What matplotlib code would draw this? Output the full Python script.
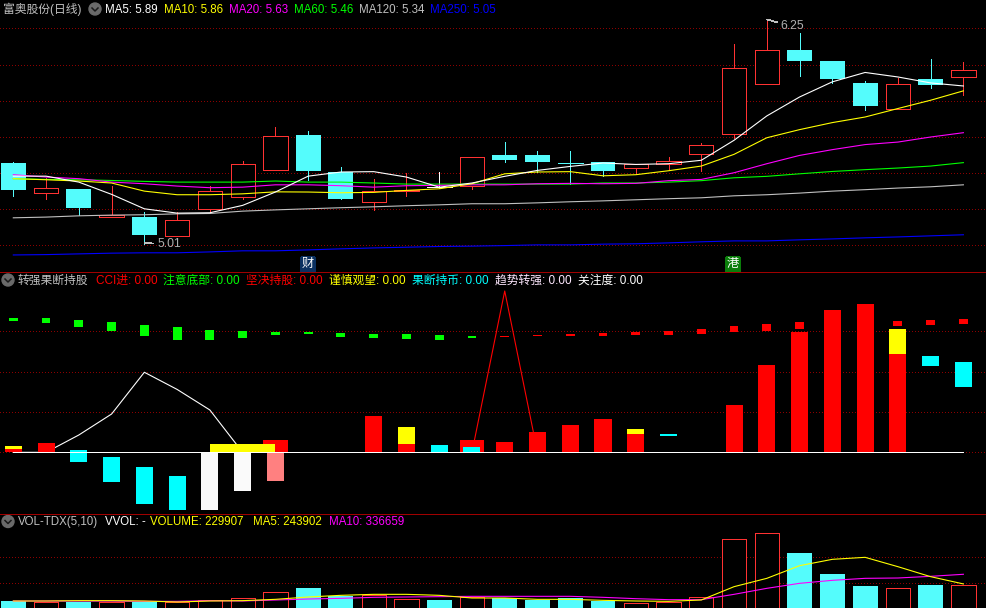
import matplotlib
matplotlib.use('Agg')
import matplotlib.pyplot as plt
from matplotlib.patches import Circle, Rectangle
import numpy as np

plt.rcParams['font.family'] = ['Liberation Sans', 'Noto Sans CJK SC', 'DejaVu Sans']
plt.rcParams['lines.antialiased'] = False
plt.rcParams['patch.antialiased'] = False

# ---- candles
open_p = [5.452, 5.287, 5.307, 5.154, 5.152, 5.048, 5.198, 5.267, 5.415, 5.607, 5.402, 5.237, 5.298, 5.319, 5.326,
          5.496, 5.496, 5.456, 5.457, 5.426, 5.450, 5.504, 5.615, 5.893, 6.080, 6.019, 5.896, 5.754, 5.919, 5.931]
close_p = [5.302, 5.317, 5.202, 5.163, 5.052, 5.139, 5.300, 5.450, 5.606, 5.407, 5.257, 5.300, 5.306, 5.319, 5.489,
           5.469, 5.457, 5.456, 5.407, 5.450, 5.467, 5.556, 5.983, 6.083, 6.019, 5.919, 5.769, 5.894, 5.885, 5.967]
high_p = [5.457, 5.372, 5.307, 5.324, 5.180, 5.185, 5.324, 5.463, 5.652, 5.630, 5.430, 5.363, 5.396, 5.402, 5.489,
          5.569, 5.519, 5.519, 5.457, 5.450, 5.485, 5.563, 6.113, 6.246, 6.174, 6.019, 5.907, 5.924, 6.030, 6.013]
low_p = [5.270, 5.252, 5.163, 5.154, 5.006, 5.048, 5.180, 5.254, 5.415, 5.357, 5.252, 5.191, 5.269, 5.313, 5.307,
         5.457, 5.402, 5.339, 5.383, 5.391, 5.419, 5.407, 5.591, 5.893, 5.935, 5.896, 5.746, 5.754, 5.869, 5.830]
doji_white = [13]

ma5 = [5.381, 5.381, 5.348, 5.280, 5.200, 5.176, 5.178, 5.219, 5.293, 5.381, 5.404, 5.406, 5.376, 5.320, 5.343,
       5.380, 5.413, 5.435, 5.454, 5.446, 5.450, 5.469, 5.580, 5.715, 5.820, 5.904, 5.956, 5.931, 5.898, 5.881]
ma10 = [5.367, 5.361, 5.354, 5.343, 5.298, 5.278, 5.278, 5.283, 5.294, 5.293, 5.289, 5.291, 5.302, 5.311, 5.339,
        5.394, 5.404, 5.406, 5.383, 5.389, 5.411, 5.437, 5.502, 5.594, 5.639, 5.678, 5.709, 5.756, 5.802, 5.854]
ma20 = [5.389, 5.376, 5.367, 5.348, 5.339, 5.326, 5.317, 5.320, 5.333, 5.333, 5.328, 5.320, 5.328, 5.330, 5.333,
        5.333, 5.339, 5.341, 5.339, 5.341, 5.356, 5.363, 5.400, 5.450, 5.496, 5.528, 5.556, 5.570, 5.598, 5.622]
ma60 = [5.367, 5.363, 5.361, 5.357, 5.352, 5.348, 5.348, 5.348, 5.354, 5.348, 5.348, 5.343, 5.337, 5.337, 5.337,
        5.337, 5.337, 5.337, 5.343, 5.343, 5.348, 5.356, 5.372, 5.380, 5.394, 5.407, 5.417, 5.426, 5.437, 5.456]
ma120 = [5.150, 5.154, 5.161, 5.165, 5.167, 5.172, 5.174, 5.187, 5.194, 5.200, 5.206, 5.211, 5.217, 5.222, 5.228,
         5.228, 5.233, 5.239, 5.244, 5.250, 5.256, 5.261, 5.272, 5.278, 5.287, 5.298, 5.306, 5.315, 5.322, 5.333]
ma250 = [4.944, 4.946, 4.950, 4.954, 4.956, 4.956, 4.961, 4.967, 4.967, 4.972, 4.978, 4.983, 4.987, 4.991, 4.993,
         4.996, 5.000, 5.000, 5.004, 5.006, 5.011, 5.017, 5.022, 5.022, 5.028, 5.033, 5.039, 5.044, 5.050, 5.056]
price_grid = [5.0, 5.2, 5.4, 5.6, 5.8, 6.0, 6.2]

# ---- middle indicator
marker_top = [66.6, 66.6, 65.6, 64.6, 63.1, 62.1, 60.7, 60.2, 59.7, 59.7, 59.2, 58.7, 58.7, 58.2, 57.7,
              57.7, 58.2, 58.7, 59.2, 59.7, 60.2, 61.2, 62.6, 63.6, 64.6, 64.6, 65.1, 65.1, 65.6, 66.1]
marker_bot = [65.1, 64.1, 62.1, 60.2, 57.7, 55.7, 55.7, 56.7, 58.2, 58.7, 57.2, 56.7, 56.2, 55.7, 56.7,
              57.2, 57.7, 57.7, 57.7, 58.2, 58.2, 58.7, 59.7, 60.2, 61.2, 61.2, 61.7, 62.6, 63.1, 63.6]
red_top = [1.7, 4.6, 0, 0, 0, 0, 0, 0, 0, 0, 0, 18.0, 4.1, 0, 0,
           5.1, 10.1, 13.6, 16.5, 9.1, 0, 0, 23.5, 43.3, 59.7, 70.6, 73.6, 48.8, 0, 0]
wide_red_idx = [8, 14]
wide_red_top = [6.1, 6.1]
yellow_idx = [0, 12, 19, 27]
yellow_bot = [1.7, 4.1, 9.1, 48.8]
yellow_top = [3.1, 12.6, 11.6, 61.2]
yellow_span = (6, 8, 0, 4.1)
cyan_idx = [2, 3, 4, 5, 13, 14, 20, 28, 29]
cyan_bot = [-4.8, -14.7, -25.6, -28.6, 0, 0, 8.1, 42.8, 32.4]
cyan_top = [1.2, -2.3, -7.3, -11.7, 3.6, 2.6, 9.1, 47.8, 44.8]
white_idx = [6, 7]
white_bot = [-28.6, -19.2]
pink_idx = [8]
pink_bot = [-14.2]
white_curve = [0, 0, 8.6, 19.0, 39.7, 31.2, 21.0, 0]
red_peak_idx = [14, 15, 16]
red_peak = [0, 80.0, 0]
ind_grid = [0, 20, 40, 60]

# ---- volume
volume = [76600, 70200, 70200, 70200, 67000, 67000, 86200, 105400, 163100, 204800, 131100, 137500, 95800, 86200, 118300,
          105400, 89400, 108600, 79800, 57400, 73400, 115100, 672700, 730100, 541300, 339400, 224000, 201600, 233600, 229907]
vol_ma5 = [79800, 79800, 83000, 83000, 79800, 70200, 79800, 83000, 95800, 118300, 134300, 143900, 143900, 134300, 108600,
           108600, 95800, 95800, 86200, 79800, 76600, 89400, 217600, 297700, 419500, 480400, 499700, 409900, 313800, 243902]
vol_ma10 = [79800, 79800, 79800, 79800, 76600, 76600, 83000, 79800, 89400, 99000, 105400, 115100, 118300, 121500, 124700,
            124700, 124700, 124700, 115100, 102200, 92600, 92600, 143900, 201600, 249700, 278500, 297700, 300900, 317000, 336659]
vol_grid = [250000, 500000]

RED = '#ff3232'
CYAN = '#54fcfc'
GRID = '#8c0000'
LW = 0.5
CURVE = 0.8
idx = np.arange(30)
up = np.array(close_p) > np.array(open_p)
up[[3, 5]] = True

fig = plt.figure(figsize=(9.86, 6.08), dpi=100, facecolor='black')


def panel(top_px, bot_px, ylim):
    ax = fig.add_axes([0, 1 - bot_px / 608, 1, (bot_px - top_px) / 608])
    ax.set_facecolor('black')
    ax.set_xlim(-0.406, 29.69)
    ax.set_ylim(*ylim)
    ax.axis('off')
    return ax


# price panel
ax1 = panel(0, 271.5, (4.8523, 6.3578))
for g in price_grid:
    ax1.axhline(g, color=GRID, lw=LW, ls=(0, (1.4, 3.2)), zorder=1)
for i in idx:
    col = 'white' if i in doji_white else (RED if up[i] else CYAN)
    ax1.vlines(i, low_p[i], high_p[i], color=col, lw=LW, zorder=2)
    bot = min(open_p[i], close_p[i])
    h = abs(close_p[i] - open_p[i])
    if h < 0.001:
        ax1.hlines(open_p[i], i - 0.38, i + 0.38, color=col, lw=LW, zorder=3)
    elif up[i]:
        ax1.bar(i, h, 0.74, bottom=bot, facecolor='black', edgecolor=RED, lw=LW, zorder=3)
    else:
        ax1.bar(i, h, 0.76, bottom=bot, color=CYAN, lw=0, zorder=3)
ma_lines = [(ma250, '#0000ff'), (ma120, '#c0c0c0'), (ma60, '#00ff00'), (ma20, '#ff00ff'), (ma10, '#ffff00'), (ma5, '#ffffff')]
for vals, c in ma_lines:
    ax1.plot(idx, vals, color=c, lw=CURVE, antialiased=True, zorder=4)
arrow = dict(arrowstyle='-', color='#c0c0c0', lw=LW, shrinkA=1, shrinkB=0)
ax1.annotate('5.01', xy=(4, 5.01), xytext=(13, -1), textcoords='offset pixels', color='#b0b0b0', fontsize=8.8,
             va='center', ha='left', arrowprops=arrow)
ax1.annotate('6.25', xy=(23, 6.25), xytext=(14, -7), textcoords='offset pixels', color='#b0b0b0', fontsize=8.8,
             va='center', ha='left', arrowprops=arrow)

# middle panel
ax2 = panel(271.5, 513, (-30.08, 89.67))
for g in ind_grid:
    ax2.axhline(g, color=GRID, lw=LW, ls=(0, (1.4, 3.2)), zorder=1)
ax2.plot(red_peak_idx, red_peak, color='#ff0000', lw=CURVE, antialiased=True, zorder=2)
ax2.plot(np.arange(len(white_curve)), white_curve, color='white', lw=CURVE, antialiased=True, zorder=2)
marker_col = ['#00ff00'] * 15 + ['#ff0000'] * 15
ax2.bar(idx, np.array(marker_top) - np.array(marker_bot), 0.27, bottom=marker_bot, color=marker_col, lw=0, zorder=3)
ax2.bar(wide_red_idx, wide_red_top, 0.76, color='#ff0000', lw=0, zorder=3)
ax2.bar(idx, red_top, 0.52, color='#ff0000', lw=0, zorder=3)
ax2.bar(yellow_idx, np.array(yellow_top) - np.array(yellow_bot), 0.52, bottom=yellow_bot, color='#ffff00', lw=0, zorder=4)
ax2.bar((yellow_span[0] + yellow_span[1]) / 2, yellow_span[3], yellow_span[1] - yellow_span[0], color='#ffff00', lw=0, zorder=4)
ax2.bar(cyan_idx[:5], np.array(cyan_top[:5]) - np.array(cyan_bot[:5]), 0.52, bottom=cyan_bot[:5], color='#00ffff', lw=0, zorder=4)
ax2.bar(cyan_idx[5], cyan_top[5] - cyan_bot[5], 0.52, bottom=cyan_bot[5], color='#00ffff', lw=0, zorder=5)
ax2.bar(cyan_idx[6:], np.array(cyan_top[6:]) - np.array(cyan_bot[6:]), 0.52, bottom=cyan_bot[6:], color='#00ffff', lw=0, zorder=4)
ax2.bar(white_idx, white_bot, 0.52, color='#fafafa', lw=0, zorder=4)
ax2.bar(pink_idx, pink_bot, 0.52, color='#ff8080', lw=0, zorder=4)
ax2.plot([0, 29], [0, 0], color='white', lw=LW, zorder=6)

# volume panel
ax3 = panel(513, 608, (12500, 925900))
for g in vol_grid:
    ax3.axhline(g, color=GRID, lw=LW, ls=(0, (1.4, 3.2)), zorder=1)
for i in idx:
    if up[i]:
        ax3.bar(i, volume[i], 0.74, facecolor='black', edgecolor=RED, lw=LW, zorder=3)
    else:
        ax3.bar(i, volume[i], 0.76, color=CYAN, lw=0, zorder=3)
ax3.plot(idx, vol_ma10, color='#ff00ff', lw=CURVE, antialiased=True, zorder=4)
ax3.plot(idx, vol_ma5, color='#ffff00', lw=CURVE, antialiased=True, zorder=5)

# header texts, separators and tags, in pixels
top = fig.add_axes([0, 0, 1, 1])
top.set_xlim(0, 986)
top.set_ylim(608, 0)
top.axis('off')
top.patch.set_alpha(0)
top.hlines([271.5, 513.5], 0, 986, color='#a00000', lw=LW)


def icon(x, y):
    top.add_patch(Circle((x, y), 6, color='#6a6a6a', antialiased=True))
    top.plot([x - 3, x, x + 3], [y - 1, y + 2, y - 1], color='#1a1a1a', lw=1.1, antialiased=True)


def header(y, items):
    for x, s, c in items:
        size = 8.3 if s.isascii() else 8.5
        top.text(x, y + 0.8, s, color=c, fontsize=size, va='center', ha='left')


icon(95, 9)
icon(8, 280)
icon(8, 521.5)
header(9, [(3, '富奥股份(日线)', '#c0c0c0'), (105, 'MA5: 5.89', '#ffffff'), (164, 'MA10: 5.86', '#ffff00'),
           (229, 'MA20: 5.63', '#ff00ff'), (294, 'MA60: 5.46', '#00ff00'), (359, 'MA120: 5.34', '#c0c0c0'),
           (430, 'MA250: 5.05', '#0000ff')])
header(280, [(18, '转强果断持股', '#c0c0c0'), (96, 'CCI进: 0.00', '#ff0000'), (163, '注意底部: 0.00', '#00ff00'),
             (246, '坚决持股: 0.00', '#ff0000'), (329, '谨慎观望: 0.00', '#ffff00'), (412, '果断持币: 0.00', '#00ffff'),
             (495, '趋势转强: 0.00', '#ffe8ff'), (578, '关注度: 0.00', '#ffffff')])
header(521.5, [(18, 'VOL-TDX(5,10)', '#c0c0c0'), (105, 'VVOL: -', '#ffffff'), (150, 'VOLUME: 229907', '#ffff00'),
               (253, 'MA5: 243902', '#ffff00'), (329, 'MA10: 336659', '#ff00ff')])

top.add_patch(Rectangle((301, 257), 13, 14, color='#0a3060'))
top.text(307.5, 264, '财', color='white', fontsize=8.8, ha='center', va='center')
top.add_patch(Rectangle((726, 257), 13, 14, color='#0a7d0a'))
top.text(732.5, 264, '港', color='white', fontsize=8.8, ha='center', va='center')

fig.savefig('out.png', dpi=100, facecolor='black')
